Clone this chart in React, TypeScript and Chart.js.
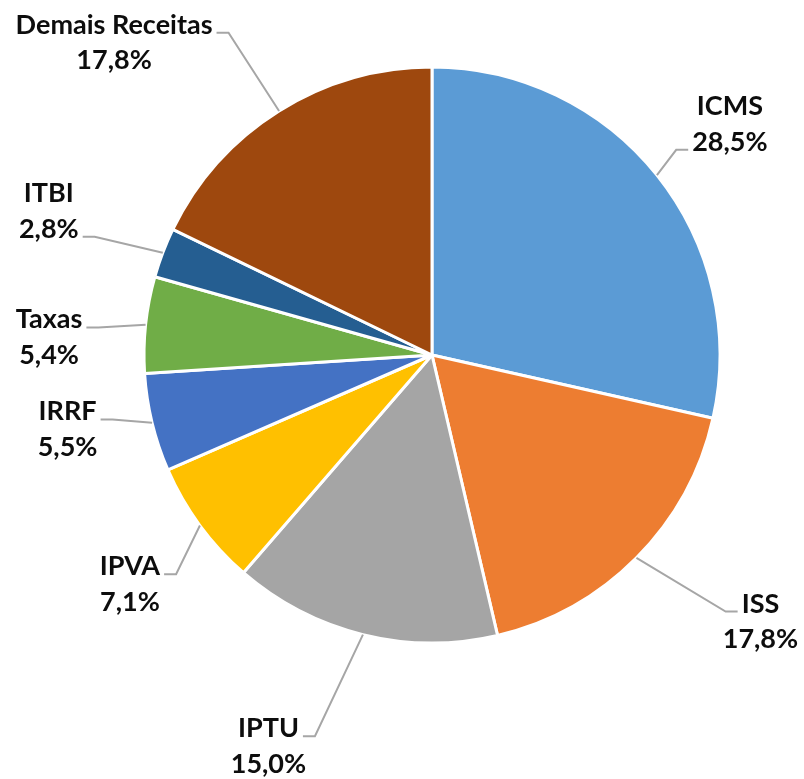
import React, { useEffect, useRef } from 'react';
import { Chart, registerables } from 'chart.js';

Chart.register(...registerables);

const categories = ['ICMS', 'ISS', 'IPTU', 'IPVA', 'IRRF', 'Taxas', 'ITBI', 'Demais Receitas'];
const shares = [28.5, 17.8, 15.0, 7.1, 5.5, 5.4, 2.8, 17.8];
const sliceColors = ['#5B9BD5', '#ED7D31', '#A5A5A5', '#FFC000', '#4472C4', '#70AD47', '#255E91', '#9E480E'];

// Label placement relative to each slice's outer-edge midpoint:
// dx = text centre, dy = first-line cap centre, attach = line the leader joins
const labelLayout = [
  { dx: 73, dy: -69.5, attach: 1 },
  { dx: 124, dy: 45, attach: 0 },
  { dx: -94.5, dy: 93, attach: 0 },
  { dx: -70, dy: 40, attach: 0 },
  { dx: -84.5, dy: -12, attach: 0 },
  { dx: -96.5, dy: -6, attach: 0 },
  { dx: -114, dy: -60, attach: 1 },
  { dx: -165, dy: -87, attach: 0 },
];

const FONT_SIZE = 27;
const LINE_GAP = 35.5;

const fmtPct = (v: number) => v.toFixed(1).replace('.', ',') + '%';

const labelPlugin = {
  id: 'outsideLabels',
  afterDatasetsDraw(chart: any) {
    const ctx = chart.ctx as CanvasRenderingContext2D;
    const meta = chart.getDatasetMeta(0);
    ctx.save();
    ctx.font = `bold ${FONT_SIZE}px Lato`;
    ctx.textAlign = 'center';
    ctx.textBaseline = 'alphabetic';
    meta.data.forEach((arc: any, i: number) => {
      const p = arc.getProps(['x', 'y', 'startAngle', 'endAngle', 'outerRadius'], true);
      const mid = (p.startAngle + p.endAngle) / 2;
      const ex = p.x + Math.cos(mid) * p.outerRadius;
      const ey = p.y + Math.sin(mid) * p.outerRadius;
      const lay = labelLayout[i];
      const cx = ex + lay.dx;
      const c1 = ey + lay.dy;
      const capHalf = FONT_SIZE * 0.717 / 2;
      const b1 = c1 + capHalf;
      const b2 = b1 + LINE_GAP;
      const line1 = categories[i];
      const line2 = fmtPct(shares[i]);
      ctx.fillStyle = '#0d0d0d';
      ctx.fillText(line1, cx, b1);
      ctx.fillText(line2, cx, b2);
      const attText = lay.attach === 0 ? line1 : line2;
      const w = ctx.measureText(attText).width;
      const ay = (lay.attach === 0 ? b1 : b2) - 1;
      const side = cx > p.x ? 1 : -1;
      const endX = side > 0 ? cx - w / 2 - 4 : cx + w / 2 + 4;
      const elbowX = endX - side * 12;
      ctx.strokeStyle = '#A6A6A6';
      ctx.lineWidth = 2;
      ctx.beginPath();
      ctx.moveTo(ex, ey);
      ctx.lineTo(elbowX, ay);
      ctx.lineTo(endX, ay);
      ctx.stroke();
    });
    ctx.restore();
  },
};

export default function App() {
  const ref = useRef<HTMLCanvasElement | null>(null);
  useEffect(() => {
    if (!ref.current) return;
    const chart = new Chart(ref.current, {
      type: 'pie',
      data: {
        labels: categories,
        datasets: [
          {
            data: shares,
            backgroundColor: sliceColors,
            borderColor: '#ffffff',
            borderWidth: 3,
          },
        ],
      },
      options: {
        responsive: false,
        animation: false,
        radius: 288,
        layout: { padding: { left: 100, right: 40, top: 20, bottom: 89 } },
        plugins: {
          legend: { display: false },
          tooltip: { enabled: false },
        },
      } as any,
      plugins: [labelPlugin],
    });
    return () => chart.destroy();
  }, []);
  return (
    <div style={{ position: 'fixed', left: 0, top: 0, width: 804, height: 779, background: '#fff' }}>
      <canvas ref={ref} width={804} height={779} />
    </div>
  );
}
